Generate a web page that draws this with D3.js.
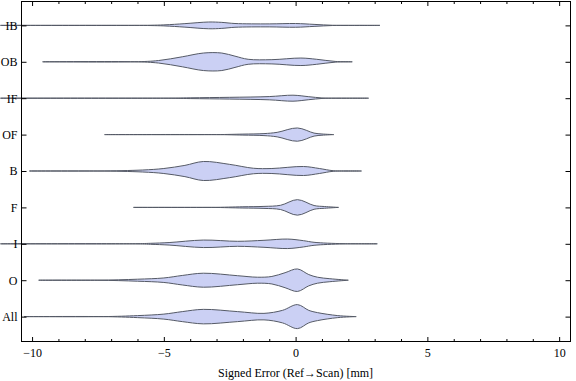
<!DOCTYPE html>
<html>
<head>
<meta charset="utf-8">
<script src="https://cdn.jsdelivr.net/npm/d3@7"></script>
<style>
  body { margin: 0; background: #fff; }
  svg { display: block; }
  text { font-family: "Liberation Serif", "DejaVu Serif", serif; }
</style>
</head>
<body>
<svg id="chart" width="576" height="381"></svg>
<script>
// ---- data ----
const categories = ["IB", "OB", "IF", "OF", "B", "F", "I", "O", "All"];
const xMajorTicks = [-10, -5, 0, 5, 10];
const xMinorTicks = [-9, -8, -7, -6, -4, -3, -2, -1, 1, 2, 3, 4, 6, 7, 8, 9];
const xTitle = "Signed Error (Ref\u2192Scan) [mm]";

// density profiles: [signed error (mm), relative density]
const profileIB = [[-11.2,0],[-6.1,0],[-5,0.04],[-4.2,0.14],[-3.3,0.27],[-2.8,0.24],[-2.3,0.15],[-1,0.12],[0,0.15],[0.7,0.08],[1.4,0.01],[2,0],[3.2,0]];
const profileOB = [[-9.6,0],[-6.1,0],[-5.2,0.1],[-4.3,0.4],[-3.5,0.7],[-2.8,0.7],[-2.3,0.45],[-1.8,0.2],[-0.9,0.17],[0.2,0.3],[0.8,0.2],[1.5,0.03],[2.15,0]];
const profileIF = [[-11.2,0],[-5,0],[-4,0.03],[-2.5,0.07],[-1,0.13],[-0.1,0.24],[0.5,0.12],[1,0.02],[1.5,0],[2.77,0]];
const profileOF = [[-7.25,0],[-3,0],[-2,0.04],[-1.2,0.08],[-0.7,0.18],[0.07,0.53],[0.7,0.12],[1.0,0.05],[1.45,0]];
const profileB  = [[-10.1,0],[-7.5,0],[-5.8,0.08],[-5,0.2],[-4.2,0.45],[-3.5,0.76],[-2.5,0.53],[-1.6,0.22],[-0.9,0.2],[0.3,0.36],[0.9,0.2],[1.45,0.02],[2.5,0]];
const profileF  = [[-6.15,0],[-3.2,0],[-2,0.05],[-1.2,0.08],[-0.57,0.17],[0.07,0.62],[0.7,0.15],[1.1,0.07],[1.63,0]];
const profileI  = [[-11.2,0],[-6.2,0],[-5.5,0.04],[-4.8,0.1],[-3.5,0.3],[-2.2,0.2],[-1.2,0.28],[-0.3,0.38],[0.3,0.25],[0.7,0.12],[1.8,0.01],[3.1,0]];
const profileO  = [[-9.75,0],[-7.5,0],[-6,0.08],[-5,0.18],[-4.3,0.38],[-3.5,0.56],[-2.2,0.36],[-1.45,0.24],[-0.9,0.3],[-0.4,0.6],[0.07,0.9],[0.5,0.45],[0.83,0.24],[1.3,0.12],[2.0,0]];
const profileAll= [[-10.3,0],[-7.3,0],[-6,0.08],[-5,0.2],[-4.3,0.4],[-3.5,0.58],[-2.2,0.4],[-1.2,0.26],[-0.5,0.5],[0.07,0.96],[0.5,0.5],[0.83,0.32],[1.6,0.08],[2.3,0]];
const profiles = [profileIB, profileOB, profileIF, profileOF, profileB, profileF, profileI, profileO, profileAll];

// ---- layout ----
const svg = d3.select("#chart");
const PL = 21, PR = 571, PT = 1, PB = 341;

const x = d3.scaleLinear().domain([-10.42, 10.45]).range([PL, PR]);
const y = d3.scalePoint().domain(categories).range([PT, PB]).padding(0.67);
const w = d3.scaleLinear().domain([0, 1]).range([0, 12.5]);

// violins (not clipped, like the original)
const area = d3.area()
  .x(d => x(d[0]))
  .curve(d3.curveCatmullRom.alpha(0.5));

categories.forEach((c, i) => {
  const cy = y(c);
  svg.append("path")
    .datum(profiles[i])
    .attr("d", area.y0(d => cy - w(d[1])).y1(d => cy + w(d[1])))
    .attr("fill", "#cbd0f4")
    .attr("stroke", "#555a66")
    .attr("stroke-width", 1)
    .attr("stroke-linejoin", "round");
});

// frame
svg.append("rect")
  .attr("x", PL + 0.5).attr("y", PT + 0.5)
  .attr("width", PR - PL - 1).attr("height", PB - PT)
  .attr("fill", "none").attr("stroke", "#000").attr("stroke-width", 1);

const fmt = d => (d < 0 ? "\u2212" + Math.abs(d) : String(d));

// bottom axis
const gBottom = svg.append("g").attr("transform", `translate(0,${PB + 0.5})`);
gBottom.call(d3.axisBottom(x).tickValues(xMajorTicks).tickSize(-4.5).tickFormat(fmt).tickPadding(7));
gBottom.append("g").call(d3.axisBottom(x).tickValues(xMinorTicks).tickSize(-2.5).tickFormat(""));
// top axis
const gTop = svg.append("g").attr("transform", `translate(0,${PT + 0.5})`);
gTop.call(d3.axisTop(x).tickValues(xMajorTicks).tickSize(-4.5).tickFormat(""));
gTop.append("g").call(d3.axisTop(x).tickValues(xMinorTicks).tickSize(-2.5).tickFormat(""));
// left axis
const gLeft = svg.append("g").attr("transform", `translate(${PL + 0.5},0)`);
gLeft.call(d3.axisLeft(y).tickSize(-5).tickPadding(4));
// right axis
const gRight = svg.append("g").attr("transform", `translate(${PR - 0.5},0)`);
gRight.call(d3.axisRight(y).tickSize(-5).tickFormat(""));

svg.selectAll(".domain").remove();
svg.selectAll(".tick line").attr("stroke", "#000");
svg.selectAll(".tick text")
  .attr("fill", "#000")
  .style("font-family", "'Liberation Serif', serif")
  .style("font-size", "12px");

// x title
svg.append("text")
  .attr("x", x(0))
  .attr("y", 377)
  .attr("text-anchor", "middle")
  .style("font-size", "12px")
  .attr("fill", "#000")
  .text(xTitle);
</script>
</body>
</html>
